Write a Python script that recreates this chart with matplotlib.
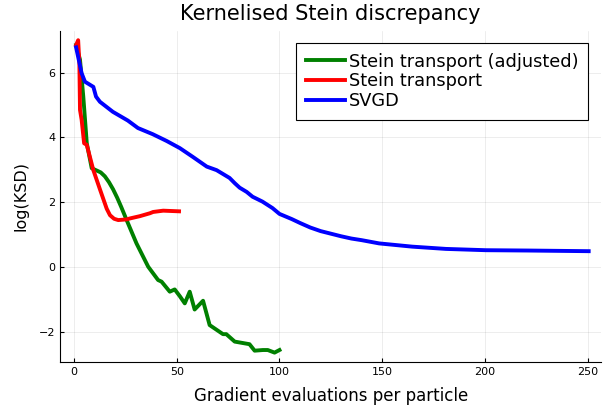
import matplotlib
matplotlib.use("Agg")
import matplotlib.pyplot as plt

# Stein transport (adjusted)
adj_x = [1, 2.9, 4.5, 6.2, 8.6, 11, 13, 15, 17, 19, 21, 23, 25.6, 30.4, 36.1, 40.9, 42.6,
         46.6, 49, 51.5, 53.9, 56.3, 58.7, 62.8, 66, 72.5, 74.1, 78.2, 85.4, 87.9, 91.9, 94.3, 97.6, 100]
adj_y = [6.85, 6.4, 5.26, 3.82, 3.05, 2.98, 2.92, 2.80, 2.62, 2.40, 2.14, 1.85, 1.45, 0.73, 0.01, -0.40, -0.45,
         -0.76, -0.69, -0.90, -1.12, -0.76, -1.31, -1.04, -1.79, -2.07, -2.07, -2.30, -2.38, -2.58, -2.56, -2.56, -2.64, -2.56]

# Stein transport
st_x = [1, 2, 2.6, 2.9, 3.7, 4.9, 6.2, 9.4, 12.6, 15.9, 17.5, 19.5, 21.5, 25.6, 27.2, 32, 36.9,
        38.5, 43.4, 51.1]
st_y = [6.85, 7.0, 6.29, 4.85, 4.54, 3.82, 3.77, 2.99, 2.40, 1.80, 1.60, 1.49, 1.45, 1.47, 1.50, 1.57, 1.66,
        1.70, 1.74, 1.72]

# SVGD
svgd_x = [1, 3.7, 5.3, 9.4, 10.7, 12.6, 18.9, 26.2, 31.1, 38.3, 45.1, 51.5, 57.8, 64.6, 69.4,
          75.7, 78.2, 80.6, 84, 86.9, 91.7, 96.6, 100, 106, 110, 115, 120, 125, 130, 135, 140,
          148.5, 164.6, 181, 200.5, 221, 250.5]
svgd_y = [6.78, 5.98, 5.72, 5.56, 5.26, 5.10, 4.79, 4.52, 4.29, 4.10, 3.89, 3.67, 3.40, 3.10, 2.99,
          2.75, 2.59, 2.45, 2.32, 2.17, 2.02, 1.82, 1.64, 1.48, 1.36, 1.22, 1.11, 1.03, 0.95, 0.88, 0.83,
          0.73, 0.63, 0.56, 0.52, 0.51, 0.49]

xticks = [0, 50, 100, 150, 200, 250]
yticks = [-2, 0, 2, 4, 6]


def main():
    fig = plt.figure(figsize=(6.03, 4.08), dpi=100)
    ax = fig.add_axes([0.1003, 0.1127, 0.8964, 0.8118])

    ax.plot(adj_x, adj_y, color="green", lw=2.8, label="Stein transport (adjusted)")
    ax.plot(st_x, st_y, color="red", lw=2.8, label="Stein transport")
    ax.plot(svgd_x, svgd_y, color="blue", lw=2.8, label="SVGD")

    ax.set_xlim(-6.6, 256.5)
    ax.set_ylim(-2.93, 7.29)
    ax.set_xticks(xticks)
    ax.set_yticks(yticks)
    ax.tick_params(direction="in", labelsize=8, length=3, width=0.8)
    ax.grid(True, color="black", alpha=0.1, lw=0.5)

    for side in ["top", "right"]:
        ax.spines[side].set_visible(False)

    ax.set_title("Kernelised Stein discrepancy", fontsize=15, pad=8)
    ax.set_xlabel("Gradient evaluations per particle", fontsize=12, labelpad=7)
    ax.set_ylabel("log(KSD)", fontsize=11.5, labelpad=8)

    leg = ax.legend(loc="upper right", fontsize=12.8, fancybox=False, framealpha=1,
                    edgecolor="black", handlelength=2.2, handletextpad=0.2,
                    labelspacing=0.1, borderpad=0.55, borderaxespad=0,
                    bbox_to_anchor=(0.976, 0.964))
    leg.get_frame().set_linewidth(0.8)

    fig.savefig("out.png", dpi=100)


if __name__ == '__main__':
    main()
